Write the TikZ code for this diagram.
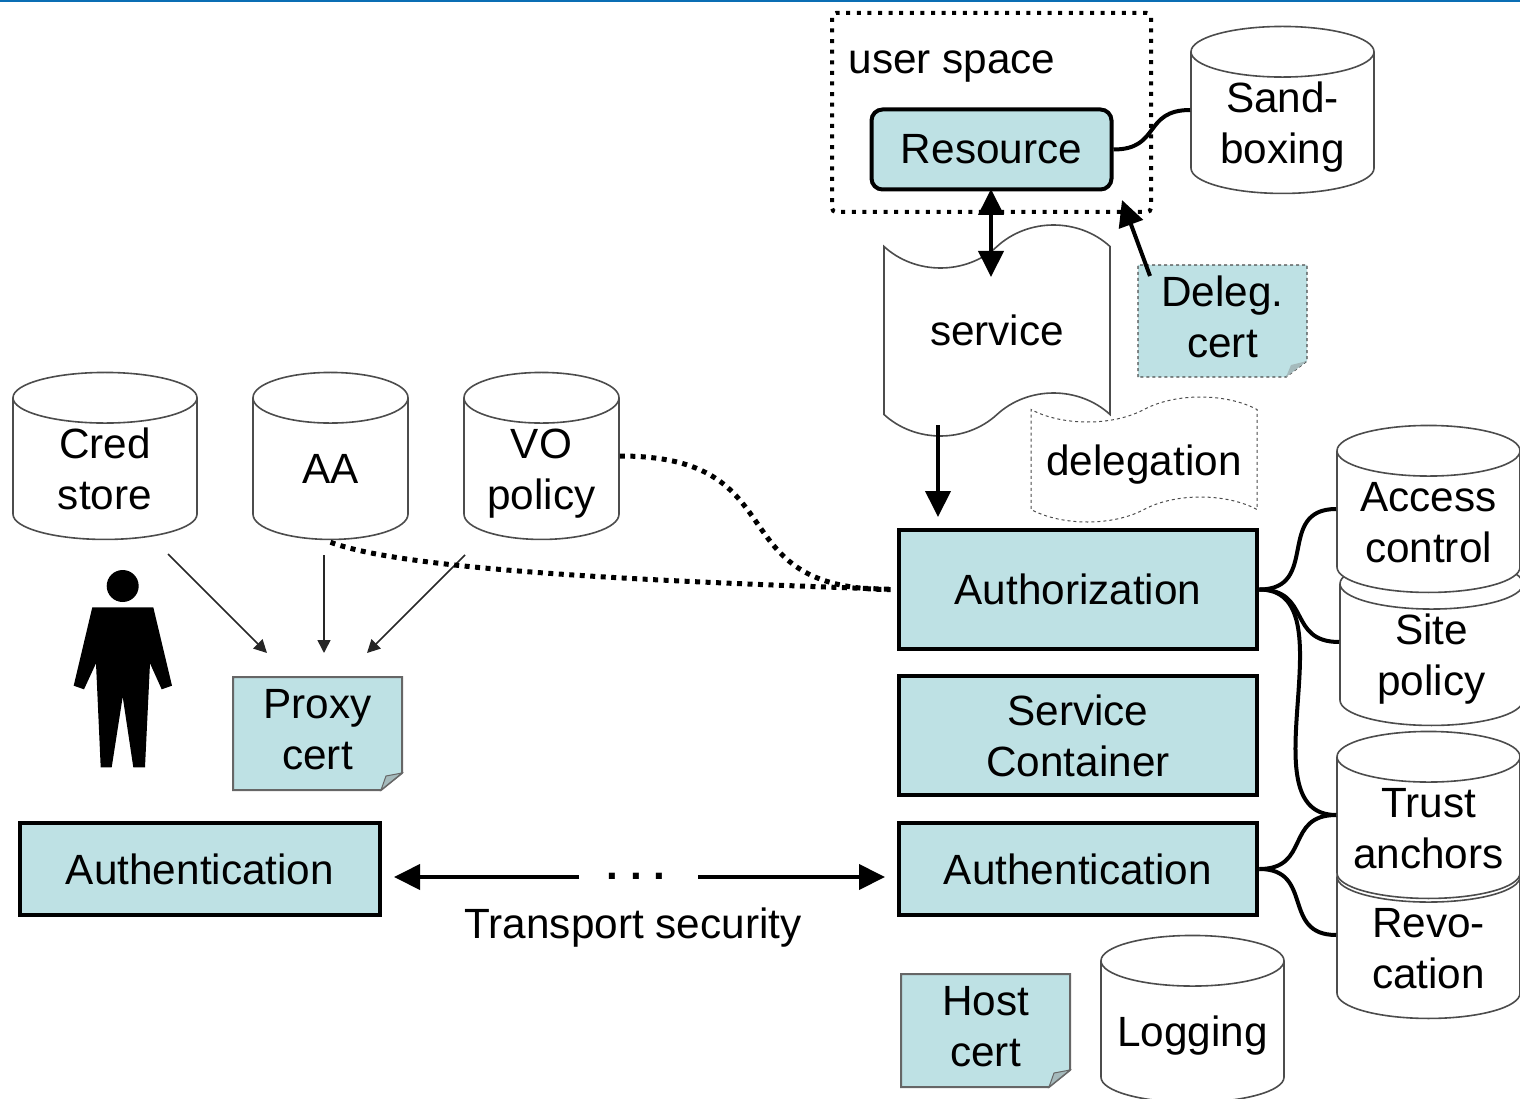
\documentclass[tikz,border=0pt]{standalone}
\usepackage{fontspec}
\setmainfont{Liberation Sans}
\usetikzlibrary{shapes.geometric,shapes.symbols,arrows.meta}
\definecolor{boxteal}{HTML}{BEE1E4}
\definecolor{topblue}{HTML}{0A6EB4}
\newcommand{\dbtext}[1]{\parbox[c][80pt][c]{152pt}{\vspace*{9pt}\centering\strut #1\strut}}
\tikzset{
	every node/.style={font=\fontsize{42.3}{51}\selectfont, align=center, inner sep=0pt, text=black},
	dbase/.style={draw=black!70, line width=1.6pt, fill=white, cylinder, shape border rotate=90, aspect=0.333, minimum height=167pt},
	stepbox/.style={draw=black, line width=4.6pt, fill=boxteal, minimum width=358pt},
	certline/.style={draw=black!60, line width=2pt, fill=boxteal},
	foldpart/.style={fill=boxteal!60!gray, draw=black!60, line width=1pt},
	wavebox/.style={tape, tape bend top=in and out, tape bend bottom=in and out, fill=white, minimum width=226pt},
	link/.style={draw=black, line width=4pt},
	bigarrow/.style={draw=black, line width=4pt, >={Triangle[length=26pt,width=25pt]}},
	thinarrow/.style={draw=black!85, line width=1.6pt, >={Triangle[length=13pt,width=13pt]}},
	dotlink/.style={draw=black, line width=5pt, dash pattern=on 5pt off 5.5pt}
}
\begin{document}
\begin{tikzpicture}[x=1pt, y=-1pt]
	\useasboundingbox (0,0) rectangle (1520,1099);
	\fill[topblue] (0,0) rectangle (1520,2.4);
	% left databases
	\node[dbase, minimum width=184pt] (CredStore)at(105, 469) {\dbtext{Cred\\store}};
	\node[dbase, minimum width=155pt] (AA)at(330.5, 469) {\dbtext{AA}};
	\node[dbase, minimum width=155pt] (VOPolicy)at(541.5, 469) {\dbtext{VO\\policy}};
	% person
	\node[circle, fill=black, minimum size=32pt] (Head)at(122.7, 586) {};
	\fill[black] (92.3,607.3) -- (153.3,607.3) -- (172,685.7) -- (161.7,689.3) -- (150,663.3) -- (145,767.3) -- (133.3,767.3) -- (122.7,696.7) -- (111.7,767.3) -- (100.7,767.3) -- (96,663.3) -- (84,689.3) -- (73.7,685.7) -- cycle;
	% proxy cert
	\draw[certline] (233,790) -- (233,677) -- (402,677) -- (402,773) -- (381,790) -- cycle;
	\draw[foldpart] (381,790) -- (386,776) -- (402,773) -- cycle;
	\node (ProxyCert)at(317.5, 729.5) {Proxy\\cert};
	% stacks on the server side
	\node[stepbox, minimum height=119pt] (Authorization)at(1078, 589.5) {Authorization};
	\node[stepbox, minimum height=119pt] (Container)at(1078, 735.5) {Service\\Container};
	\node[stepbox, minimum height=92pt] (AuthServer)at(1078, 869) {Authentication};
	\node[stepbox, minimum height=92pt, minimum width=360pt] (AuthClient)at(200, 869) {Authentication};
	% right databases
	\node[dbase, minimum width=183pt] (SitePolicy)at(1431.5, 655) {\dbtext{Site\\policy}};
	\node[dbase, minimum width=183pt] (AccessControl)at(1428.5, 522) {\dbtext{Access\\control}};
	\node[dbase, minimum width=183pt] (Revocation)at(1428.5, 948) {\dbtext{Revo-\\cation}};
	\node[dbase, minimum width=183pt] (TrustAnchors)at(1428.5, 828) {\dbtext{Trust\\anchors}};
	\node[dbase, minimum width=183pt] (Logging)at(1192.5, 1032) {\dbtext{Logging}};
	\node[dbase, minimum width=183pt] (Sandboxing)at(1282.5, 123) {\dbtext{Sand-\\boxing}};
	% host cert
	\draw[certline] (901,1087) -- (901,974) -- (1070,974) -- (1070,1070) -- (1049,1087) -- cycle;
	\draw[foldpart] (1049,1087) -- (1054,1073) -- (1070,1070) -- cycle;
	\node (HostCert)at(985.5, 1026.5) {Host\\cert};
	% user space
	\node[draw=black, line width=4pt, dash pattern=on 4pt off 6.6pt, rounded corners=4pt, minimum width=319pt, minimum height=199pt] (UserSpace)at(991.5, 112.5) {};
	\node (UserLabel)at(952, 67) {user space};
	\node[draw=black, line width=4pt, rounded corners=11pt, fill=boxteal, minimum width=240pt, minimum height=80pt] (Resource)at(991.5, 149.5) {Resource};
	% documents
	\node[wavebox, tape bend height=25pt, draw=black!70, line width=1pt, dashed, minimum height=125pt] (Delegation)at(1144, 459.5) {\raisebox{-15.8pt}[16pt][16pt]{delegation}};
	\node[wavebox, tape bend height=43pt, draw=black!70, line width=1.6pt, minimum height=211pt] (Service)at(997, 330.5) {service};
	% delegation cert
	\draw[certline, draw=black!70, line width=1.4pt, dashed] (1138,377) -- (1138,265) -- (1307,265) -- (1307,361) -- (1286,377) -- cycle;
	\draw[foldpart, draw=none] (1286,377) -- (1291,365) -- (1307,361) -- cycle;
	\node (DelegCert)at(1222.5, 317) {Deleg.\\cert};
	% free ends of the connectors
	\coordinate (ServiceOut) at (938, 425);
	\coordinate (AuthzIn) at (938, 517);
	\coordinate (DelegTip) at (1122, 200);
	\coordinate (DelegOut) at (1150, 276);
	\coordinate (ServiceTop) at (991, 277);
	\coordinate (ResBottom) at (991, 189);
	\coordinate (LeftTip) at (394, 877);
	\coordinate (LeftEnd) at (579, 877);
	\coordinate (RightEnd) at (698, 877);
	\coordinate (RightTip) at (885, 877);
	\coordinate (CredOut) at (168, 554);
	\coordinate (AAOut) at (324, 555);
	\coordinate (VOOut) at (465, 555);
	\coordinate (ProxyA) at (267, 653);
	\coordinate (ProxyB) at (324, 653);
	\coordinate (ProxyC) at (367, 653);
	% connectors
	\draw[link] (Resource.east) to[out=0, in=180, looseness=1.4] ([yshift=13pt]Sandboxing.west);
	\draw[link] (Authorization.east) to[out=0, in=180, looseness=1.4] ([yshift=13pt]AccessControl.west);
	\draw[link] (Authorization.east) to[out=0, in=180, looseness=1.4] ([yshift=13pt]SitePolicy.west);
	\draw[link] (Authorization.east) to[out=0, in=180] ([yshift=13pt]TrustAnchors.west);
	\draw[link] (AuthServer.east) to[out=0, in=180, looseness=1.4] ([yshift=13pt]TrustAnchors.west);
	\draw[link] (AuthServer.east) to[out=0, in=180, looseness=1.4] ([yshift=13pt]Revocation.west);
	\draw[bigarrow, <->] (ResBottom) -- (ServiceTop);
	\draw[bigarrow, ->] (ServiceOut) -- (AuthzIn);
	\draw[bigarrow, ->] (DelegOut) -- (DelegTip);
	\draw[bigarrow, ->] (LeftEnd) -- (LeftTip);
	\draw[bigarrow, ->] (RightEnd) -- (RightTip);
	\draw[thinarrow, ->] (CredOut) -- (ProxyA);
	\draw[thinarrow, ->] (AAOut) -- (ProxyB);
	\draw[thinarrow, ->] (VOOut) -- (ProxyC);
	\draw[dotlink, shorten >=6pt] ([yshift=13pt]VOPolicy.east) .. controls (800,456) and (715,590) .. (Authorization.west);
	\draw[dotlink, shorten >=6pt] ([yshift=-2pt]AA.south) .. controls (410,572) and (680,582) .. (Authorization.west);
	% transport
	\node (Dots)at(636, 876) {\textbf{.\ .\ .}};
	\node (Transport)at(633, 928) {Transport security};
\end{tikzpicture}
\end{document}
